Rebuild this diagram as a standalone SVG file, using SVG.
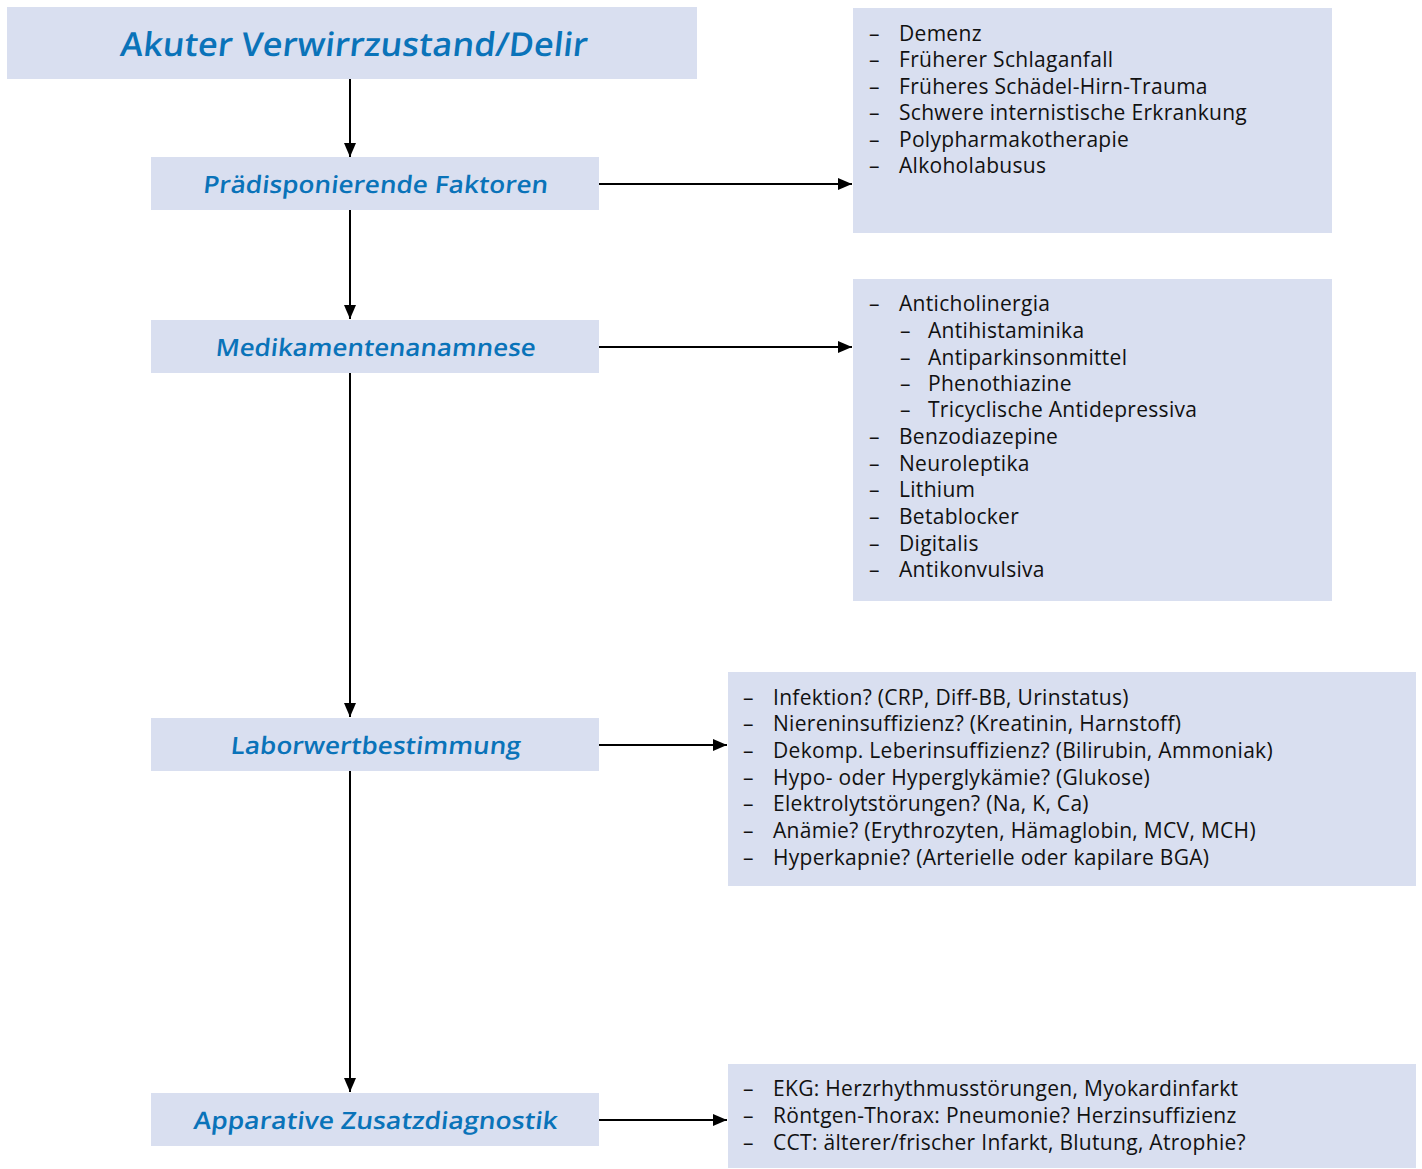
<svg xmlns="http://www.w3.org/2000/svg" width="1422" height="1169" viewBox="0 0 1422 1169">
<style>
.box{fill:#d9dff0}
.hd{font-family:"Open Sans","Liberation Sans",sans-serif;font-weight:600;fill:#0a73b9;text-anchor:middle}
.it{font-family:"Open Sans","Liberation Sans",sans-serif;font-size:21px;letter-spacing:0.3px;fill:#111}
.ln{stroke:#000;stroke-width:2;fill:none}
</style>
<defs>
<marker id="ah" viewBox="0 0 14 12" refX="14" refY="6" markerWidth="14" markerHeight="12" markerUnits="userSpaceOnUse" orient="auto">
<path d="M0,0 L14,6 L0,12 Z" fill="#000"/>
</marker>
</defs>
<rect width="1422" height="1169" fill="#fff"/>
<g id="connectors">
<line class="ln" x1="350" y1="79" x2="350" y2="157" marker-end="url(#ah)"/>
<line class="ln" x1="350" y1="210" x2="350" y2="319" marker-end="url(#ah)"/>
<line class="ln" x1="350" y1="373" x2="350" y2="717" marker-end="url(#ah)"/>
<line class="ln" x1="350" y1="771" x2="350" y2="1092" marker-end="url(#ah)"/>
<line class="ln" x1="599" y1="184" x2="852" y2="184" marker-end="url(#ah)"/>
<line class="ln" x1="599" y1="347" x2="852" y2="347" marker-end="url(#ah)"/>
<line class="ln" x1="599" y1="745" x2="727" y2="745" marker-end="url(#ah)"/>
<line class="ln" x1="599" y1="1120" x2="727" y2="1120" marker-end="url(#ah)"/>
</g>
<g id="title">
<rect class="box" x="7" y="7" width="690" height="72"/>
<text class="hd" transform="translate(353,56) skewX(-6)" font-size="33" textLength="467" lengthAdjust="spacingAndGlyphs">Akuter Verwirrzustand/Delir</text>
</g>
<g id="praedisponierende">
<rect class="box" x="151" y="157" width="448" height="53"/>
<text class="hd" transform="translate(375,193) skewX(-6)" font-size="24" textLength="345" lengthAdjust="spacingAndGlyphs">Prädisponierende Faktoren</text>
</g>
<g id="medikamente">
<rect class="box" x="151" y="320" width="448" height="53"/>
<text class="hd" transform="translate(375,356) skewX(-6)" font-size="24" textLength="320" lengthAdjust="spacingAndGlyphs">Medikamentenanamnese</text>
</g>
<g id="labor">
<rect class="box" x="151" y="718" width="448" height="53"/>
<text class="hd" transform="translate(375,754) skewX(-6)" font-size="24" textLength="290" lengthAdjust="spacingAndGlyphs">Laborwertbestimmung</text>
</g>
<g id="apparative">
<rect class="box" x="151" y="1093" width="448" height="53"/>
<text class="hd" transform="translate(375,1129) skewX(-6)" font-size="24" textLength="364" lengthAdjust="spacingAndGlyphs">Apparative Zusatzdiagnostik</text>
</g>
<g id="faktoren-liste">
<rect class="box" x="853" y="8" width="479" height="225"/>
<g class="it">
<text x="869" y="41">–</text><text x="899" y="41">Demenz</text>
<text x="869" y="67">–</text><text x="899" y="67">Früherer Schlaganfall</text>
<text x="869" y="94">–</text><text x="899" y="94">Früheres Schädel-Hirn-Trauma</text>
<text x="869" y="120">–</text><text x="899" y="120">Schwere internistische Erkrankung</text>
<text x="869" y="147">–</text><text x="899" y="147">Polypharmakotherapie</text>
<text x="869" y="173">–</text><text x="899" y="173">Alkoholabusus</text>
</g>
</g>
<g id="medikamente-liste">
<rect class="box" x="853" y="279" width="479" height="322"/>
<g class="it">
<text x="869" y="311">–</text><text x="899" y="311">Anticholinergia</text>
<text x="900" y="338">–</text><text x="928" y="338">Antihistaminika</text>
<text x="900" y="365">–</text><text x="928" y="365">Antiparkinsonmittel</text>
<text x="900" y="391">–</text><text x="928" y="391">Phenothiazine</text>
<text x="900" y="417">–</text><text x="928" y="417">Tricyclische Antidepressiva</text>
<text x="869" y="444">–</text><text x="899" y="444">Benzodiazepine</text>
<text x="869" y="471">–</text><text x="899" y="471">Neuroleptika</text>
<text x="869" y="497">–</text><text x="899" y="497">Lithium</text>
<text x="869" y="524">–</text><text x="899" y="524">Betablocker</text>
<text x="869" y="551">–</text><text x="899" y="551">Digitalis</text>
<text x="869" y="577">–</text><text x="899" y="577">Antikonvulsiva</text>
</g>
</g>
<g id="labor-liste">
<rect class="box" x="728" y="672" width="688" height="214"/>
<g class="it">
<text x="743" y="705">–</text><text x="773" y="705">Infektion? (CRP, Diff-BB, Urinstatus)</text>
<text x="743" y="731">–</text><text x="773" y="731">Niereninsuffizienz? (Kreatinin, Harnstoff)</text>
<text x="743" y="758">–</text><text x="773" y="758">Dekomp. Leberinsuffizienz? (Bilirubin, Ammoniak)</text>
<text x="743" y="785">–</text><text x="773" y="785">Hypo- oder Hyperglykämie? (Glukose)</text>
<text x="743" y="811">–</text><text x="773" y="811">Elektrolytstörungen? (Na, K, Ca)</text>
<text x="743" y="838">–</text><text x="773" y="838">Anämie? (Erythrozyten, Hämaglobin, MCV, MCH)</text>
<text x="743" y="865">–</text><text x="773" y="865">Hyperkapnie? (Arterielle oder kapilare BGA)</text>
</g>
</g>
<g id="apparative-liste">
<rect class="box" x="728" y="1064" width="688" height="104"/>
<g class="it">
<text x="743" y="1096">–</text><text x="773" y="1096">EKG: Herzrhythmusstörungen, Myokardinfarkt</text>
<text x="743" y="1123">–</text><text x="773" y="1123">Röntgen-Thorax: Pneumonie? Herzinsuffizienz</text>
<text x="743" y="1150">–</text><text x="773" y="1150">CCT: älterer/frischer Infarkt, Blutung, Atrophie?</text>
</g>
</g>
</svg>
